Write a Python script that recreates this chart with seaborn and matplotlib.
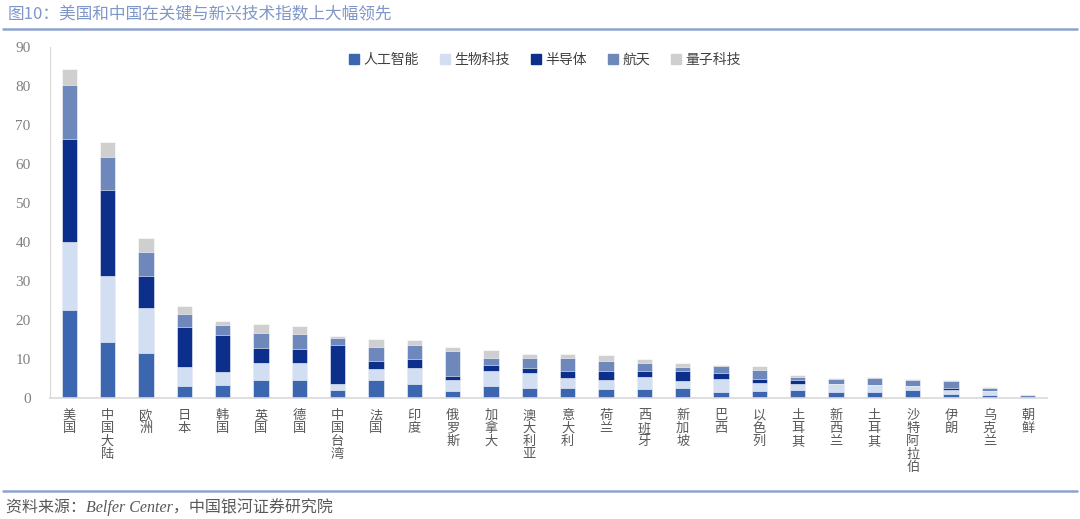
import numpy as np
import pandas as pd
import matplotlib
matplotlib.use('Agg')
import matplotlib.pyplot as plt
from matplotlib.lines import Line2D
import seaborn as sns

# Data
countries = ['美国', '中国大陆', '欧洲', '日本', '韩国', '英国', '德国', '中国台湾', '法国', '印度',
             '俄罗斯', '加拿大', '澳大利亚', '意大利', '荷兰', '西班牙', '新加坡', '巴西', '以色列',
             '土耳其', '新西兰', '土耳其', '沙特阿拉伯', '伊朗', '乌克兰', '朝鲜']
ai = [22.6, 14.4, 11.5, 3.1, 3.3, 4.5, 4.5, 2.0, 4.5, 3.7, 1.9, 3.2, 2.6, 2.6, 2.4, 2.4, 2.6,
      1.6, 1.9, 2.0, 1.6, 1.6, 2.1, 0.9, 0.8, 0.0]
bio = [17.3, 16.8, 11.6, 4.8, 3.4, 4.6, 4.4, 1.7, 2.9, 4.0, 2.7, 3.7, 3.8, 2.6, 2.3, 2.9, 1.8,
       3.4, 2.0, 1.5, 1.9, 1.8, 1.1, 1.2, 0.9, 0.0]
semi = [26.4, 22.2, 8.3, 10.4, 9.4, 3.8, 3.6, 10.0, 2.0, 2.4, 1.0, 1.5, 1.2, 1.8, 2.1, 1.5, 2.5,
        1.5, 1.0, 1.0, 0.0, 0.0, 0.0, 0.4, 0.0, 0.0]
space = [13.9, 8.4, 6.1, 3.3, 2.5, 3.7, 3.8, 1.6, 3.7, 3.6, 6.4, 1.9, 2.7, 3.2, 2.8, 2.3, 1.1,
         1.6, 2.3, 1.0, 1.5, 1.8, 1.4, 1.8, 0.9, 0.7]
quantum = [4.2, 3.8, 3.6, 2.0, 1.2, 2.5, 2.2, 0.7, 2.1, 1.3, 1.2, 2.1, 1.1, 1.0, 1.4, 1.0, 0.9,
           0.3, 0.9, 0.3, 0.2, 0.1, 0.2, 0.2, 0.1, 0.1]

series_names = ['人工智能', '生物科技', '半导体', '航天', '量子科技']
series_colors = ['#3d66b0', '#d2def1', '#0b2f8a', '#6f88bb', '#d0cfcf']

df = pd.DataFrame({'人工智能': ai, '生物科技': bio, '半导体': semi, '航天': space, '量子科技': quantum})
cum = df.cumsum(axis=1)
pos = list(range(len(countries)))

sns.set_style('white')
plt.rcParams['font.family'] = ['Noto Sans CJK SC', 'DejaVu Sans']

fig = plt.figure(figsize=(10.8, 5.19), dpi=100)
ax = fig.add_axes([50 / 1080, 1 - 398 / 519, 997 / 1080, 351 / 519])

# stacked bars: draw cumulative totals from the top series down
for name, color in reversed(list(zip(series_names, series_colors))):
    sns.barplot(x=pos, y=cum[name].values, color=color, saturation=1, width=0.4,
                edgecolor='white', linewidth=0.4, ax=ax)

ax.set_xlim(-0.5, len(countries) - 0.5)
ax.set_ylim(0, 90)
ax.set_yticks(range(0, 91, 10))
ax.set_yticklabels([str(v) for v in range(0, 91, 10)], family='Liberation Serif',
                   fontsize=11, color='#808080')
ax.set_xticks(pos)
ax.set_xticklabels(['\n'.join(c) for c in countries], fontsize=9.5, color='#595959',
                   linespacing=1.0, va='top')
ax.tick_params(axis='both', length=0)
ax.tick_params(axis='x', pad=8)
ax.tick_params(axis='y', pad=14)
ax.set_xlabel('')
ax.set_ylabel('')
for side in ['top', 'right']:
    ax.spines[side].set_visible(False)
ax.spines['left'].set_color('#d9d9d9')
ax.spines['bottom'].set_color('#d9d9d9')
ax.spines['bottom'].set_linewidth(1.2)

handles = [Line2D([], [], marker='s', linestyle='', markersize=6.5, color=c) for c in series_colors]
ax.legend(handles, series_names, loc='center', bbox_to_anchor=(545 / 1080, 1 - 60 / 519),
          bbox_transform=fig.transFigure, ncol=5, frameon=False, fontsize=10,
          handlelength=0.7, handletextpad=0.35, columnspacing=1.5, labelcolor='#404040')

# title, rules and source line
fig.text(8 / 1080, 1 - 15 / 519, '图10：美国和中国在关键与新兴技术指数上大幅领先',
         fontsize=12, color='#7f96c8', va='center', ha='left')
fig.add_artist(Line2D([3 / 1080, 1077 / 1080], [1 - 29 / 519] * 2, color='#8ea2cf', linewidth=1.8))
fig.add_artist(Line2D([3 / 1080, 1077 / 1080], [1 - 491 / 519] * 2, color='#8ea2cf', linewidth=1.8))
fig.text(6 / 1080, 1 - 507 / 519, '资料来源：Belfer Center，中国银河证券研究院',
         family=['Liberation Serif', 'Noto Sans CJK SC'], style='italic',
         fontsize=11.5, color='#595959', va='center', ha='left')

fig.savefig('out.png', dpi=100)
